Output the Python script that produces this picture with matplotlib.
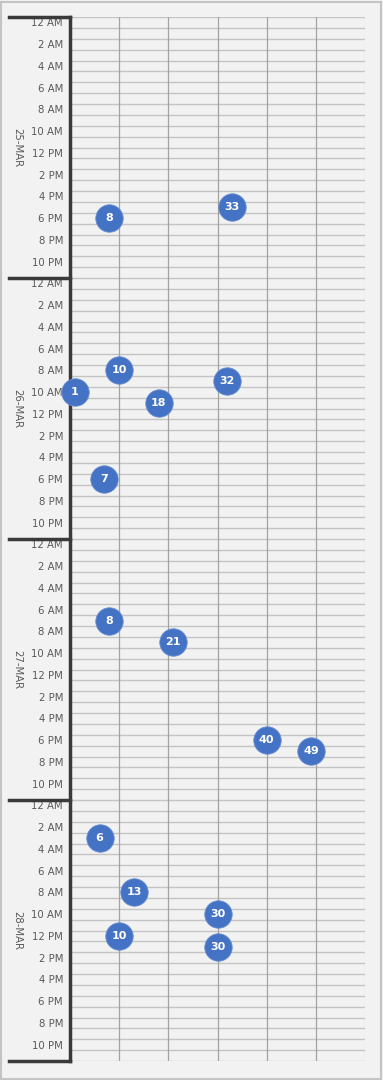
import matplotlib.pyplot as plt
from matplotlib.patches import Rectangle
from matplotlib.lines import Line2D
import matplotlib.transforms as mtransforms

# days on the outer category level, hours inside each day
days = ["25-MAR", "26-MAR", "27-MAR", "28-MAR"]
hour_labels = ["12 AM", "2 AM", "4 AM", "6 AM", "8 AM", "10 AM",
               "12 PM", "2 PM", "4 PM", "6 PM", "8 PM", "10 PM"]

# bubbles: day index, hour of the day, value (x position and label)
bubble_day = [0, 0, 1, 1, 1, 1, 1, 2, 2, 2, 2, 3, 3, 3, 3, 3]
bubble_hour = [18, 17, 8, 10, 9, 11, 18, 7, 9, 18, 19, 3, 8, 10, 12, 13]
bubble_value = [8, 33, 10, 1, 32, 18, 7, 8, 21, 40, 49, 6, 13, 30, 10, 30]

W, H = 383, 1080
fig = plt.figure(figsize=(W / 100, H / 100), dpi=100)
fig.patch.set_facecolor("#f2f2f2")
fig.patches.append(Rectangle((0.002, 0.001), 0.994, 0.997, transform=fig.transFigure,
                             fill=False, edgecolor="#c4c4c4", lw=1.5))

left, right, top, bottom = 70, 365, 17, 1061
ax = fig.add_axes([left / W, 1 - bottom / H, (right - left) / W, (bottom - top) / H])
ax.set_facecolor("#f2f2f2")

n_hours = 24 * len(days)
ax.set_xlim(0, 60)
ax.set_ylim(n_hours, 0)

# gridlines
for h in range(n_hours + 1):
    ax.axhline(h, color="#c4c4c4", lw=1.0, zorder=1)
for xv in range(10, 60, 10):
    ax.axvline(xv, color="#a3a3a3", lw=0.9, zorder=1)
ax.axvline(60, color="#dadada", lw=0.8, zorder=1)

for s in ["top", "right", "bottom"]:
    ax.spines[s].set_visible(False)
ax.spines["left"].set_color("#3a3a3a")
ax.spines["left"].set_linewidth(2.5)
ax.set_xticks([])

# hour tick labels, every 2 hours, centred in their hour slot
yt, yl = [], []
for d in range(len(days)):
    for i, lab in enumerate(hour_labels):
        yt.append(d * 24 + i * 2 + 0.5)
        yl.append(lab)
ax.set_yticks(yt)
ax.set_yticklabels(yl, fontsize=7.3, color="#595959")
ax.tick_params(axis="y", length=0, pad=5)

# day labels and separators
trans = mtransforms.blended_transform_factory(ax.transAxes, ax.transData)
x_sep = (9 - left) / (right - left)
x_day = (17 - left) / (right - left)
for d in range(len(days) + 1):
    ax.add_line(Line2D([x_sep, 0], [d * 24, d * 24], transform=trans,
                       color="#3a3a3a", lw=2.5, clip_on=False, zorder=5))
for d, name in enumerate(days):
    ax.text(x_day, d * 24 + 12, name, transform=trans, rotation=-90,
            ha="center", va="center", fontsize=7.3, color="#595959")

# bubbles
ys = [d * 24 + h + 0.5 for d, h in zip(bubble_day, bubble_hour)]
ax.scatter(bubble_value, ys, s=390, color="#4472c4", edgecolor="#6a8fd0",
           linewidth=0.6, zorder=6, clip_on=False)
for xv, yv in zip(bubble_value, ys):
    ax.text(xv, yv, str(xv), ha="center", va="center", color="white",
            fontsize=8, fontweight="bold", zorder=7)

fig.savefig("out.png", dpi=100, facecolor=fig.get_facecolor())
